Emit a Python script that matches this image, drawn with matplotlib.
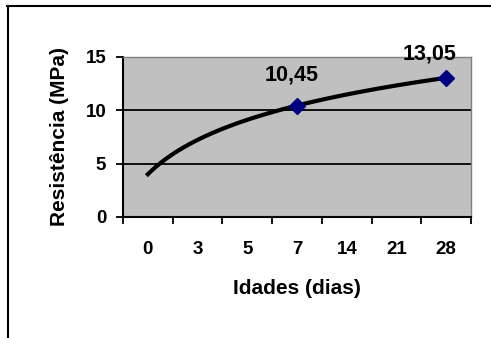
import numpy as np
import matplotlib
matplotlib.use("Agg")
import matplotlib.pyplot as plt
from matplotlib.lines import Line2D

# dados do ensaio
idades = ["0", "3", "5", "7", "14", "21", "28"]
idades_medidas = ["7", "28"]
resistencia = [10.45, 13.05]
rotulos = ["10,45", "13,05"]

plt.rcParams['font.family'] = ['Liberation Sans', 'DejaVu Sans']
plt.rcParams['font.weight'] = 'bold'

fig = plt.figure(figsize=(4.91, 3.38), dpi=100)
ax = fig.add_axes([0.2505, 0.358, 0.709, 0.4734])
ax.set_facecolor('#C0C0C0')

pos = np.arange(len(idades))
xs = [idades.index(i) for i in idades_medidas]

# linha de tendencia logaritmica (como no excel, x = 1..n)
a, b = np.polyfit(np.log(np.array(xs) + 1), resistencia, 1)
xt = np.linspace(0, len(idades) - 1, 200)
ax.plot(xt, a * np.log(xt + 1) + b, color='black', lw=3, zorder=3)

ax.plot(xs, resistencia, linestyle='none', marker='D', markersize=8,
        color='#000080', zorder=4)

offsets = [(-3.6, 22), (-12, 17)]
for x, y, t, off in zip(xs, resistencia, rotulos, offsets):
    ax.annotate(t, (x, y), xytext=off, textcoords='offset points',
                ha='center', va='center', fontsize=15.5, fontweight='bold')

ax.set_xlim(-0.5, len(idades) - 0.5)
ax.set_ylim(0, 15)
ax.set_yticks([0, 5, 10, 15])
ax.set_yticklabels(['0', '5', '10', '15'], fontsize=13.5, fontweight='bold')
for v in [5, 10]:
    ax.axhline(v, color='black', lw=1.3, zorder=1)

ax.set_xticks(np.arange(-0.5, len(idades)), labels=[])
ax.set_xticks(pos, minor=True)
ax.set_xticklabels(idades, minor=True, fontsize=13.5, fontweight='bold')
ax.tick_params(axis='x', which='minor', length=0, pad=17)
ax.tick_params(axis='x', which='major', length=5, width=1.3, direction='out')
ax.tick_params(axis='y', length=5, width=1.3, pad=7)

for s in ['left', 'bottom']:
    ax.spines[s].set_color('black')
    ax.spines[s].set_linewidth(1.5)
for s in ['top', 'right']:
    ax.spines[s].set_color('#808080')
    ax.spines[s].set_linewidth(1.0)

ax.set_xlabel('Idades (dias)', fontsize=15, fontweight='bold', va='center')
ax.xaxis.set_label_coords(0.5, -0.444)
ax.set_ylabel('Resistência (MPa)', fontsize=15, fontweight='bold', va='center')
ax.yaxis.set_label_coords(-0.181, 0.5)

# moldura externa do grafico
fig.add_artist(Line2D([7.5 / 491, 7.5 / 491], [0, 1 - 6 / 338], color='black', lw=1.5))
fig.add_artist(Line2D([7 / 491, 1], [1 - 6 / 338, 1 - 6 / 338], color='black', lw=1.5))

fig.savefig('out.png', dpi=100)
